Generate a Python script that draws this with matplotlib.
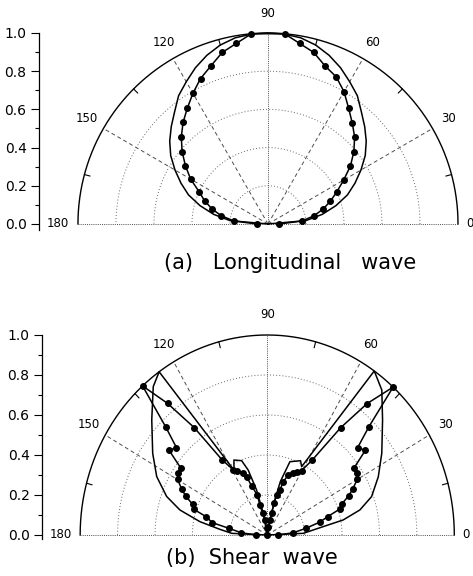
import numpy as np
import matplotlib
matplotlib.use('Agg')
import matplotlib.pyplot as plt

# (a) longitudinal wave: measured points (every 5 deg, none at 90)
long_ang = [0, 5, 10, 15, 20, 25, 30, 35, 40, 45, 50, 55, 60, 65, 70, 75, 80, 85,
            95, 100, 105, 110, 115, 120, 125, 130, 135, 140, 145, 150, 155, 160, 165, 170, 175, 180]
long_meas = [0.06, 0.18, 0.245, 0.30, 0.35, 0.40, 0.46, 0.53, 0.59, 0.645, 0.69, 0.74, 0.80, 0.85, 0.88, 0.93, 0.96, 1.0,
             1.0, 0.96, 0.93, 0.88, 0.84, 0.79, 0.74, 0.695, 0.645, 0.59, 0.53, 0.47, 0.40, 0.355, 0.305, 0.25, 0.18, 0.06]
# (a) theory curve
long_th_ang = [0, 5, 10, 15, 20, 25, 30, 35, 40, 45, 50, 55, 60, 65, 70, 75, 80, 85, 90,
               95, 100, 105, 110, 115, 120, 125, 130, 135, 140, 145, 150, 155, 160, 165, 170, 175, 180]
long_th = [0.0, 0.20, 0.29, 0.37, 0.445, 0.505, 0.565, 0.625, 0.675, 0.72, 0.765, 0.82, 0.86, 0.903, 0.94, 0.97, 0.99, 0.998, 1.0,
           0.998, 0.99, 0.97, 0.94, 0.903, 0.86, 0.82, 0.765, 0.72, 0.675, 0.625, 0.565, 0.505, 0.445, 0.37, 0.29, 0.20, 0.0]

# (b) shear wave: measured points
shear_ang = [0, 4.7, 9.2, 13, 15.9, 18.5, 21.1, 24.3, 26.7, 30, 33.1, 35.9, 38.9, 42.1, 44.9, 47.7, 50.9, 53.8,
             57.3, 60.3, 63.2, 65.9, 69.5, 72.2, 73.2, 76, 77, 78, 79.4, 83, 90,
             95, 99.4, 103, 104.6, 104.9, 108.8, 110.7, 112.6, 116.4, 119, 122.7, 126, 129, 131.8,
             135.1, 138, 141.1, 144, 146.8, 149.9, 153.3, 155.9, 159, 161.9, 164.3, 168.1, 170.8, 175.3, 180]
shear_meas = [0.06, 0.14, 0.21, 0.29, 0.336, 0.41, 0.426, 0.478, 0.511, 0.556, 0.571, 0.574, 0.674, 0.651, 0.768, 1.0, 0.847, 0.665,
              0.446, 0.37, 0.355, 0.34, 0.32, 0.28, 0.235, 0.206, 0.163, 0.111, 0.077, 0.042, 0.0,
              0.034, 0.076, 0.111, 0.155, 0.207, 0.259, 0.312, 0.334, 0.36, 0.372, 0.446, 0.663, 0.847, 1.0,
              0.767, 0.653, 0.674, 0.573, 0.569, 0.554, 0.512, 0.478, 0.427, 0.412, 0.34, 0.30, 0.207, 0.14, 0.06]
# (b) theory curve
shear_th_ang = [0, 2.5, 7.9, 10.5, 14.2, 19, 26.1, 33.7, 43, 49.8, 55.1, 61.7, 64.4, 71.7, 75.3, 76.8, 79, 90,
                101, 104.2, 107.4, 110.2, 115.4, 118.7, 125.3, 129.4, 137, 146.3, 153.7, 160.3, 165, 169.5, 173.6, 177.5, 180]
shear_th = [0.0, 0.193, 0.30, 0.413, 0.511, 0.59, 0.661, 0.736, 0.843, 0.949, 1.0, 0.388, 0.412, 0.386, 0.276, 0.188, 0.085, 0.0,
            0.11, 0.232, 0.34, 0.396, 0.415, 0.37, 1.0, 0.96, 0.844, 0.736, 0.659, 0.571, 0.483, 0.366, 0.255, 0.19, 0.0]

grid_r = [0.2, 0.4, 0.6, 0.8]
grid_ang = [30, 60, 120, 150]
arc_ticks = [15, 45, 75, 105, 135, 165]
ang_labels = [30, 60, 90, 120, 150]


def xy(ang, r):
    a = np.deg2rad(np.asarray(ang, float))
    r = np.asarray(r, float)
    return r * np.cos(a), r * np.sin(a)


def frame(ax, xleft, ylow):
    t = np.linspace(0, 180, 361)
    ax.plot(*xy(t, np.ones_like(t)), color='k', lw=1.0, clip_on=False)
    for rr in grid_r:
        ax.plot(*xy(t, np.full_like(t, rr)), color='0.4', lw=0.7, ls=(0, (1, 2.2)), clip_on=False)
    for a in grid_ang:
        ax.plot(*xy([a, a], [0, 1]), color='0.3', lw=0.7, ls=(0, (4, 3)), clip_on=False)
    ax.plot(*xy([90, 90], [0, 1]), color='0.3', lw=0.7, ls=(0, (1, 1.2)), clip_on=False)
    ax.plot([-1, 1], [0, 0], color='0.3', lw=0.7, ls=(0, (1, 1.2)), clip_on=False)
    for a in arc_ticks:
        ax.plot(*xy([a, a], [0.97, 1.0]), color='k', lw=0.8, clip_on=False)
    for a in ang_labels:
        lx, ly = xy(a, 1.1)
        ax.text(lx, ly, str(a), ha='center', va='center', fontsize=8.5)
    ax.text(-1.045, 0, '180', ha='right', va='center', fontsize=8.5)
    ax.text(1.045, 0, '0', ha='left', va='center', fontsize=8.5)

    ax.set_xlim(xleft, 1.0)
    ax.set_ylim(ylow, 1.0)
    for s in ['top', 'right', 'bottom']:
        ax.spines[s].set_visible(False)
    ax.spines['left'].set_linewidth(0.9)
    ax.set_xticks([])
    ax.set_yticks([0.0, 0.2, 0.4, 0.6, 0.8, 1.0])
    ax.set_yticks([0.1, 0.3, 0.5, 0.7, 0.9], minor=True)
    ax.yaxis.set_major_formatter('{x:.1f}')
    ax.tick_params(axis='y', which='major', direction='out', length=6, width=0.8, labelsize=10, pad=3)
    ax.tick_params(axis='y', which='minor', direction='out', length=3, width=0.8)


W, H = 473, 576
fig = plt.figure(figsize=(W / 100, H / 100), dpi=100)

# top panel
ax1 = fig.add_axes([39 / W, (H - 229.7) / H, 419 / W, 196.7 / H])
frame(ax1, -1.205, -0.03)
ax1.plot(*xy(long_th_ang, long_th), color='k', lw=1.1, clip_on=False)
ax1.plot(*xy(long_ang, long_meas), color='k', lw=1.1, marker='o', ms=4.0, clip_on=False)
fig.text(290 / W, 1 - 263 / H, '(a)   Longitudinal   wave', ha='center', va='center', fontsize=15)

# bottom panel
ax2 = fig.add_axes([42 / W, (H - 539) / H, 412.3 / W, 204 / H])
frame(ax2, -1.204, -0.02)
ax2.plot(*xy(shear_th_ang, shear_th), color='k', lw=1.1, clip_on=False)
ax2.plot(*xy(shear_ang, shear_meas), color='k', lw=1.1, marker='o', ms=4.0, clip_on=False)
fig.text(252 / W, 1 - 558 / H, '(b)  Shear  wave', ha='center', va='center', fontsize=15)

fig.savefig('out.png', dpi=100)
